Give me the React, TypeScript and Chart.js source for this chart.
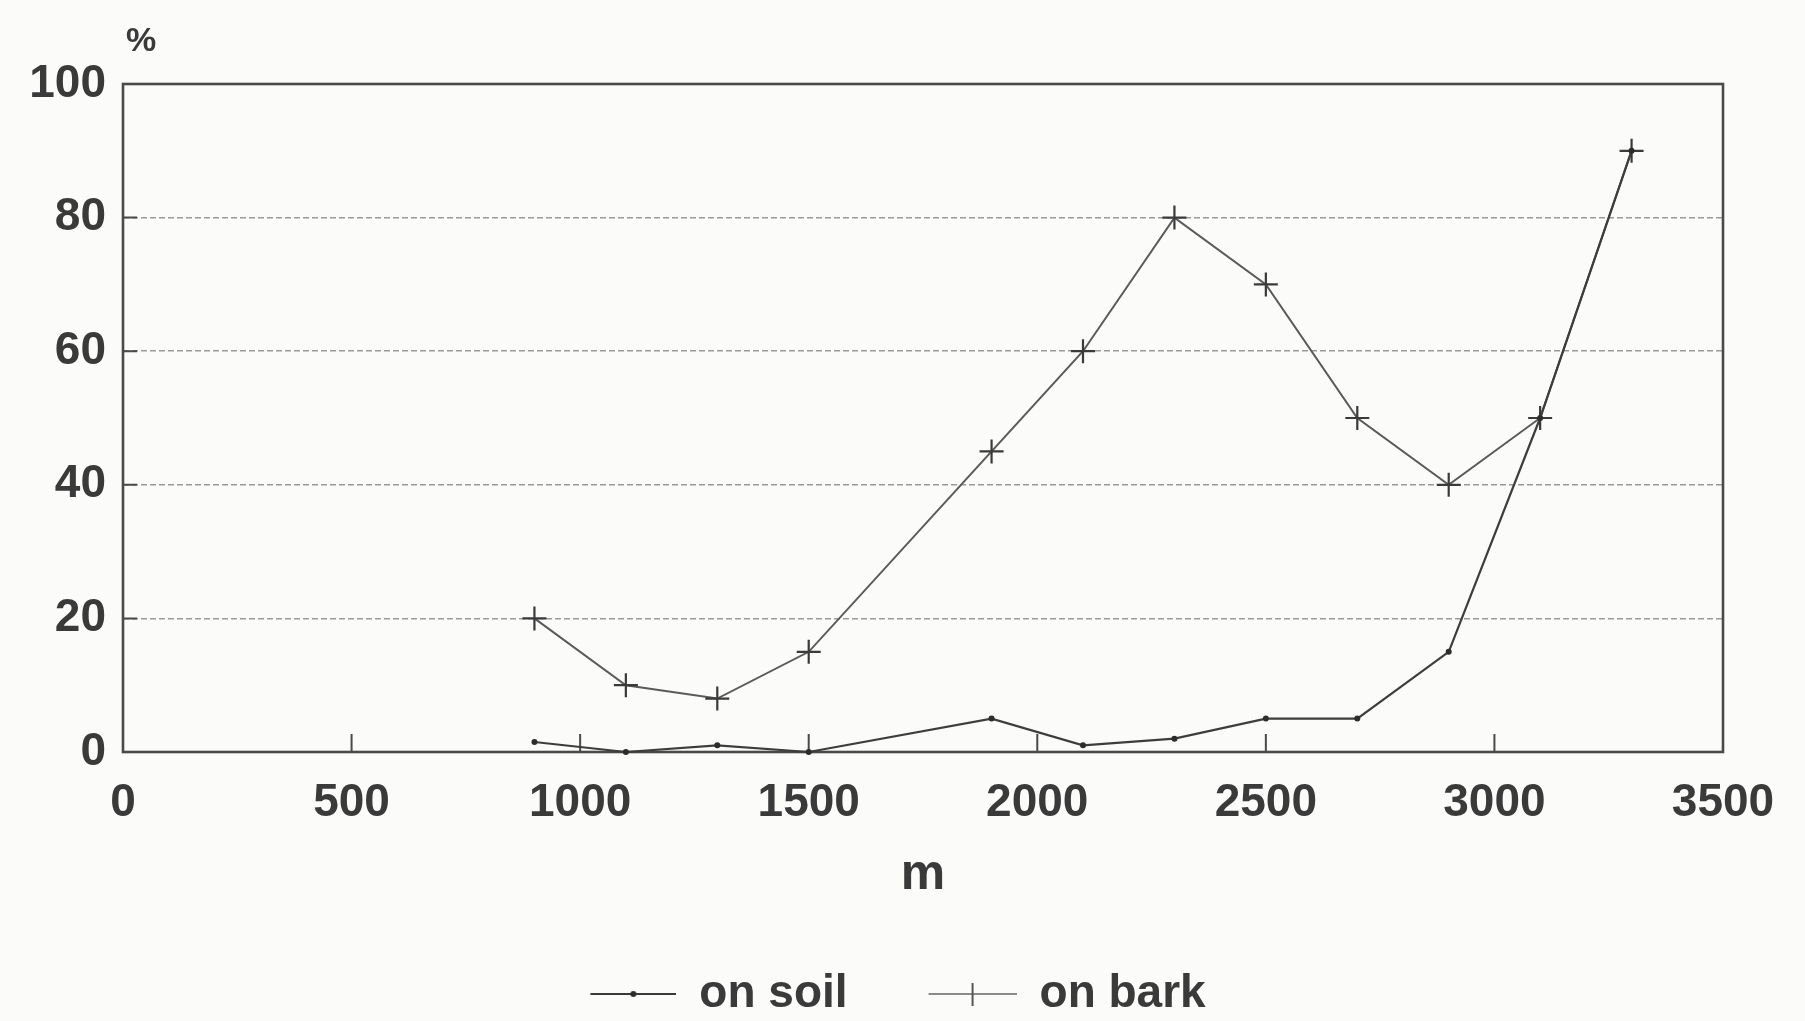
import { useEffect, useRef } from "react";
import { Chart, registerables } from "chart.js";

Chart.register(...registerables);

// Altitude (m) of each sampling station
const altitudes = [900, 1100, 1300, 1500, 1900, 2100, 2300, 2500, 2700, 2900, 3100, 3300];
// Share (%) of records growing on soil
const soilPercent = [1.5, 0, 1, 0, 5, 1, 2, 5, 5, 15, 50, 90];
// Share (%) of records growing on bark
const barkPercent = [20, 10, 8, 15, 45, 60, 80, 70, 50, 40, 50, 90];

const seriesLabels = ["on soil", "on bark"];
const xAxisTitle = "m";
const yAxisUnit = "%";

const WIDTH = 1805;
const HEIGHT = 1021;
const FONT = '"Liberation Sans", Arial, Helvetica, sans-serif';
const TEXT = "#3a3a3a";
const SWATCH_WIDTH = 159;

// Legend swatch: a short line with the series marker in its middle,
// right-aligned inside a wider transparent canvas.
function makeSwatch(sampleLen: number, color: string, marker: "dot" | "cross") {
  const c = document.createElement("canvas");
  c.width = SWATCH_WIDTH;
  c.height = 30;
  const g = c.getContext("2d")!;
  const x0 = SWATCH_WIDTH - sampleLen;
  const mid = x0 + sampleLen / 2;
  g.strokeStyle = color;
  g.lineWidth = 2.2;
  g.beginPath();
  g.moveTo(x0, 15);
  g.lineTo(SWATCH_WIDTH, 15);
  g.stroke();
  if (marker === "dot") {
    g.fillStyle = "#2a2a2a";
    g.beginPath();
    g.arc(mid, 15, 3, 0, Math.PI * 2);
    g.fill();
  } else {
    g.strokeStyle = "#555";
    g.lineWidth = 2;
    g.beginPath();
    g.moveTo(mid, 4);
    g.lineTo(mid, 27);
    g.stroke();
  }
  return c;
}

const backgroundPlugin = {
  id: "paperBackground",
  beforeDraw(chart: any) {
    const { ctx } = chart;
    ctx.save();
    ctx.fillStyle = "#fbfbfa";
    ctx.fillRect(0, 0, chart.width, chart.height);
    ctx.restore();
  },
};

// Plot frame plus short inward tick marks on both axes
const framePlugin = {
  id: "plotFrame",
  beforeDatasetsDraw(chart: any) {
    const { ctx, chartArea } = chart;
    const { left, right, top, bottom } = chartArea;
    const xs = chart.scales.x;
    const ys = chart.scales.y;
    ctx.save();
    ctx.strokeStyle = "#4a4a4a";
    ctx.lineWidth = 2.6;
    ctx.strokeRect(left, top, right - left, bottom - top);
    ctx.lineWidth = 2;
    ctx.beginPath();
    xs.ticks.forEach((t: any) => {
      if (t.value <= xs.min || t.value >= xs.max) return;
      const px = xs.getPixelForValue(t.value);
      ctx.moveTo(px, bottom);
      ctx.lineTo(px, bottom - 18);
    });
    ys.ticks.forEach((t: any) => {
      if (t.value <= ys.min || t.value >= ys.max) return;
      const py = ys.getPixelForValue(t.value);
      ctx.moveTo(left, py);
      ctx.lineTo(left + 14, py);
    });
    ctx.stroke();
    ctx.restore();
  },
};

// Unit label above the value axis
const unitPlugin = {
  id: "unitLabel",
  afterDraw(chart: any) {
    const { ctx, chartArea } = chart;
    ctx.save();
    ctx.fillStyle = TEXT;
    ctx.font = `bold 34px ${FONT}`;
    ctx.textAlign = "center";
    ctx.textBaseline = "middle";
    ctx.fillText(yAxisUnit, chartArea.left + 18, chartArea.top - 42);
    ctx.restore();
  },
};

export default function App() {
  const canvasRef = useRef<HTMLCanvasElement | null>(null);

  useEffect(() => {
    const canvas = canvasRef.current;
    if (!canvas) return;

    const swatches = [
      makeSwatch(86, "#3a3a3a", "dot"),
      makeSwatch(88, "#8a8a8a", "cross"),
    ];

    const chart = new Chart(canvas, {
      type: "line",
      data: {
        datasets: [
          {
            label: seriesLabels[0],
            data: altitudes.map((x, i) => ({ x, y: soilPercent[i] })),
            borderColor: "#3d3d3d",
            borderWidth: 2.2,
            pointStyle: "circle",
            pointRadius: 3,
            pointBackgroundColor: "#2c2c2c",
            pointBorderWidth: 0,
            tension: 0,
            clip: 8,
          },
          {
            label: seriesLabels[1],
            data: altitudes.map((x, i) => ({ x, y: barkPercent[i] })),
            borderColor: "#5a5a5a",
            borderWidth: 2,
            pointStyle: "cross",
            pointRadius: 12,
            pointBorderColor: "#3a3a3a",
            pointBorderWidth: 2.2,
            tension: 0,
            clip: 14,
          },
        ],
      },
      options: {
        responsive: false,
        animation: false,
        devicePixelRatio: 1,
        events: [],
        layout: { padding: { top: 84, right: 82, bottom: -6, left: 0 } },
        scales: {
          x: {
            type: "linear",
            min: 0,
            max: 3500,
            ticks: {
              stepSize: 500,
              padding: 24,
              color: TEXT,
              font: { family: FONT, size: 46, weight: "bold" },
              maxRotation: 0,
              callback: (v: any) => String(v),
            },
            grid: { display: false, drawTicks: false },
            border: { display: false },
            title: {
              display: true,
              text: xAxisTitle,
              color: TEXT,
              font: { family: FONT, size: 50, weight: "bold" },
              padding: { top: 0, bottom: 56 },
            },
            afterFit: (s: any) => {
              s.height = 209;
            },
          },
          y: {
            min: 0,
            max: 100,
            ticks: {
              stepSize: 20,
              padding: 17,
              color: TEXT,
              font: { family: FONT, size: 46, weight: "bold" },
              callback: (v: any) => String(v),
            },
            grid: {
              drawTicks: false,
              lineWidth: 1.6,
              color: (ctx: any) =>
                ctx.tick && ctx.tick.value > 0 && ctx.tick.value < 100 ? "#9a9a9a" : "rgba(0,0,0,0)",
            },
            border: { display: false, dash: [6, 3] },
            afterFit: (s: any) => {
              s.width = 123;
            },
          },
        },
        plugins: {
          tooltip: { enabled: false },
          legend: {
            position: "bottom",
            labels: {
              usePointStyle: true,
              pointStyleWidth: SWATCH_WIDTH,
              padding: 10,
              color: TEXT,
              font: { family: FONT, size: 46, weight: "bold" },
              generateLabels: (ch: any) =>
                ch.data.datasets.map((ds: any, i: number) => ({
                  text: ds.label,
                  pointStyle: swatches[i],
                  fillStyle: "transparent",
                  strokeStyle: "transparent",
                  lineWidth: 0,
                  fontColor: TEXT,
                  hidden: false,
                  datasetIndex: i,
                })),
            },
          },
        },
      },
      plugins: [backgroundPlugin, framePlugin, unitPlugin],
    } as any);

    return () => chart.destroy();
  }, []);

  return (
    <div
      style={{
        position: "fixed",
        left: 0,
        top: 0,
        width: WIDTH,
        height: HEIGHT,
        background: "#fbfbfa",
      }}
    >
      <canvas ref={canvasRef} width={WIDTH} height={HEIGHT} style={{ display: "block" }} />
    </div>
  );
}
